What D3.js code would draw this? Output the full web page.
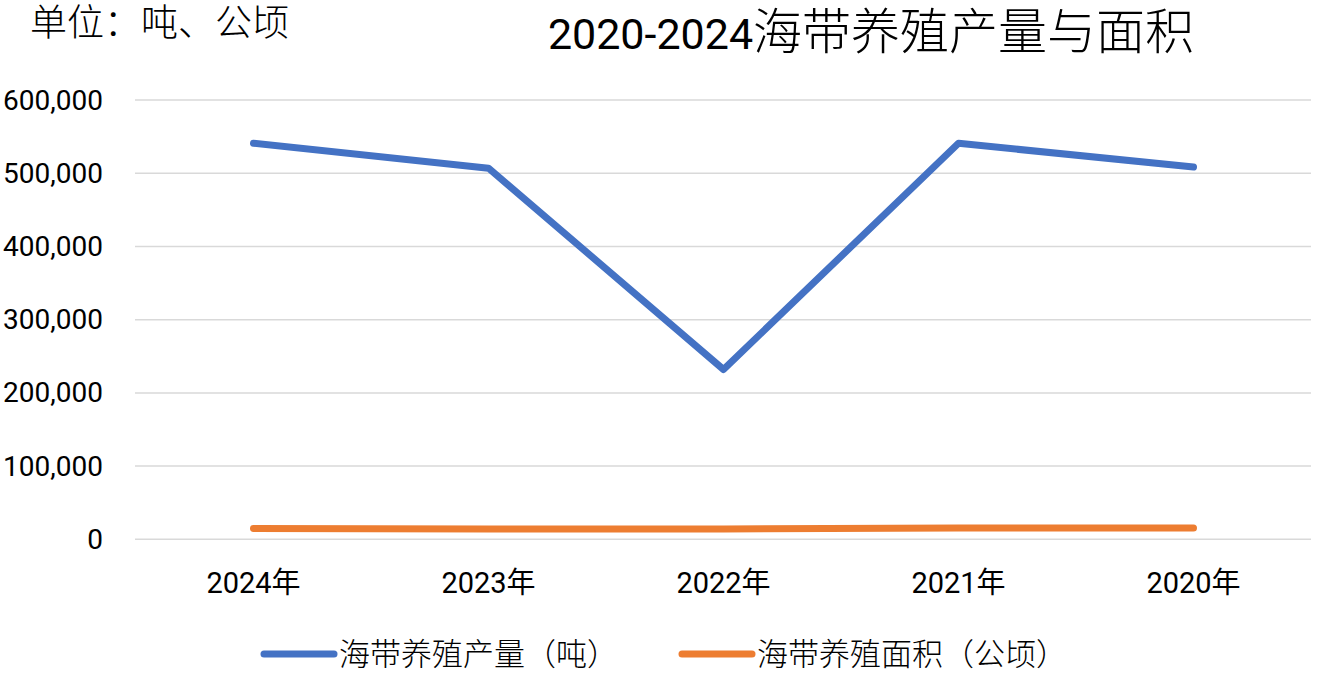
<!DOCTYPE html>
<html>
<head>
<meta charset="utf-8">
<script src="https://cdn.jsdelivr.net/npm/d3@7"></script>
<style>
  body { margin: 0; background: #fff; }
  text { fill: #000; }
</style>
</head>
<body>
<div id="chart"></div>
<script>
var years = ["2024年", "2023年", "2022年", "2021年", "2020年"];
var output = [541000, 507000, 232000, 541000, 508500];   // 海带养殖产量（吨）
var area = [14800, 14000, 14000, 15500, 15500];          // 海带养殖面积（公顷）
var yTicks = [0, 100000, 200000, 300000, 400000, 500000, 600000];
var seriesNames = ["海带养殖产量（吨）", "海带养殖面积（公顷）"];
var seriesColors = ["#4472C4", "#ED7D31"];

var width = 1319,
    height = 674,
    plotLeft = 136,
    plotRight = 1311,
    plotTop = 100.1,
    plotBottom = 539.3;

var x = d3.scaleBand()
    .domain(years)
    .range([plotLeft, plotRight])
    .paddingInner(0);

var y = d3.scaleLinear()
    .domain([0, 600000])
    .range([plotBottom, plotTop]);

var latin = "Roboto, 'Noto Sans CJK SC', sans-serif";
var cjk = "'Noto Sans CJK SC', sans-serif";

var svg = d3.select('#chart').append('svg')
    .attr('width', width)
    .attr('height', height);

// gridlines
svg.append('g')
  .selectAll('line').data(yTicks)
  .enter().append('line')
    .attr('x1', plotLeft - 1)
    .attr('x2', plotRight)
    .attr('y1', function (d) { return y(d); })
    .attr('y2', function (d) { return y(d); })
    .style('stroke', '#d9d9d9')
    .style('stroke-width', 1.5);

// y axis labels
var yAxis = d3.axisLeft(y)
    .tickValues(yTicks)
    .tickSize(0)
    .tickPadding(0)
    .tickFormat(d3.format(','));

svg.append('g')
    .attr('transform', 'translate(103,0)')
    .call(yAxis)
    .call(function (g) { g.select('.domain').remove(); })
    .selectAll('text')
      .style('font-family', latin)
      .style('font-size', '28px')
      .style('fill', '#000');

// x axis labels
var xAxis = d3.axisBottom(x)
    .tickSize(0)
    .tickPadding(0);

svg.append('g')
    .attr('transform', 'translate(0,' + 570 + ')')
    .call(xAxis)
    .call(function (g) { g.select('.domain').remove(); })
    .selectAll('text')
      .attr('dy', '0.78em')
      .style('font-family', latin)
      .style('font-size', '29px')
      .style('fill', '#000');

// lines
var line = d3.line()
    .x(function (d, i) { return x(years[i]) + x.bandwidth() / 2; })
    .y(function (d) { return y(d); });

[output, area].forEach(function (s, k) {
  svg.append('path')
    .datum(s)
    .attr('d', line)
    .style('fill', 'none')
    .style('stroke', seriesColors[k])
    .style('stroke-width', 7)
    .style('stroke-linecap', 'round')
    .style('stroke-linejoin', 'round');
});

// title
var title = svg.append('text')
    .attr('x', 871)
    .attr('y', 49)
    .attr('text-anchor', 'middle');
title.append('tspan')
    .style('font-family', latin)
    .style('font-size', '43px')
    .text('2020-2024');
title.append('tspan')
    .style('font-family', cjk)
    .style('font-size', '49px')
    .style('font-weight', 300)
    .text('海带养殖产量与面积');

// unit note
svg.append('text')
    .attr('x', 30)
    .attr('y', 36)
    .style('font-family', cjk)
    .style('font-size', '37px')
    .style('font-weight', 300)
    .text('单位：吨、公顷');

// legend
var legendX = [264, 682];
var legend = svg.append('g').selectAll('g').data(seriesNames)
  .enter().append('g')
    .attr('transform', function (d, i) { return 'translate(' + legendX[i] + ',654)'; });

legend.append('line')
    .attr('x1', 0)
    .attr('x2', 70)
    .style('stroke', function (d, i) { return seriesColors[i]; })
    .style('stroke-width', 7)
    .style('stroke-linecap', 'round');

legend.append('text')
    .attr('x', 75)
    .attr('dy', '0.36em')
    .style('font-family', cjk)
    .style('font-size', '31px')
    .style('font-weight', 300)
    .text(function (d) { return d; });
</script>
</body>
</html>
